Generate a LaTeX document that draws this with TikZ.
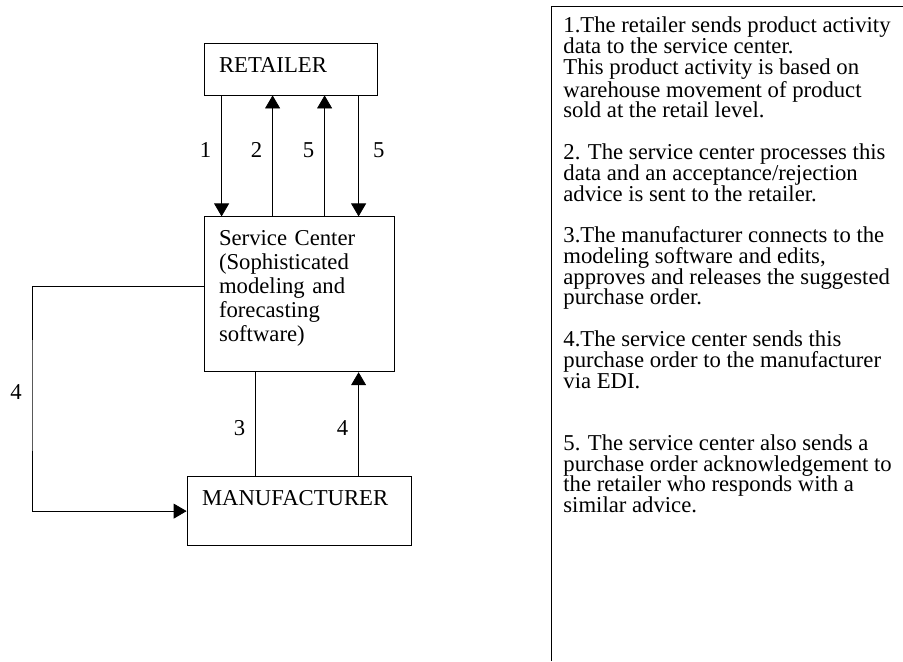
\documentclass[tikz,border=0pt]{standalone}
\usepackage{fontspec}
\setmainfont{Liberation Serif}
\usetikzlibrary{arrows.meta,positioning}
\tikzset{
	-{Triangle[length=6.5pt,width=7.5pt]},semithick,
	box/.style ={rectangle, draw, align=left, inner xsep=7.5pt, inner ysep=0pt},
	num/.style = {inner sep=5pt},
	notes/.style = {anchor=north west, inner sep=0pt, align=left, font=\fontsize{11.35}{10.39}\selectfont}
}

\begin{document}
\begin{tikzpicture}[x=0.5pt,y=-0.5pt,font=\fontsize{11.35}{12}\selectfont]

    \useasboundingbox (0,0) rectangle (903,661);

    \node[box, text width=71.5pt, minimum height=26pt, text depth=3.8pt] (retailer) at (290.5,69) {RETAILER};
    \node[box, text width=80pt, minimum height=77.5pt, text depth=56pt, below=60.5pt of retailer, xshift=4.25pt] (service)
        {Service Center\\(Sophisticated\\modeling and\\forecasting\\software)};
    \node[box, text width=97pt, minimum height=34.5pt, text depth=13pt, below=52pt of service] (manuf) {MANUFACTURER};

    % retailer <-> service center
    \draw ([xshift=9pt]retailer.south west) -- ([xshift=9pt]retailer.south west |- service.north) node[num,left,pos=0.45] {1};
    \draw ([xshift=34.5pt]retailer.south west |- service.north) -- ([xshift=34.5pt]retailer.south west) node[num,left,pos=0.55] {2};
    \draw ([xshift=60.5pt]retailer.south west |- service.north) -- ([xshift=60.5pt]retailer.south west) node[num,left,pos=0.55] {5};
    \draw ([xshift=77.5pt]retailer.south west) -- ([xshift=77.5pt]retailer.south west |- service.north) node[num,right,pos=0.45,xshift=2pt] {5};

    % service center <-> manufacturer
    \draw[-] ([xshift=26pt]service.south west) -- ([xshift=26pt]service.south west |- manuf.north) node[num,left,pos=0.54] {3};
    \draw ([xshift=77.5pt]service.south west |- manuf.north) -- ([xshift=77.5pt]service.south west) node[num,left,pos=0.46] {4};

    \coordinate (bend) at (32,392);
    \draw ([yshift=3.75pt]service.west) -| (bend) node[num,left] {4} |- (manuf.west);

    % explanation panel
    \draw[-] (551,661) |- (903,6);
    \node[notes] (steps) at (563,16.5) {1.The retailer sends product activity\\
        data to the service center.\\
        This product activity is based on\\
        warehouse movement of product\\
        sold at the retail level.\\[10.39pt]
        2. The service center processes this\\
        data and an acceptance/rejection\\
        advice is sent to the retailer.\\[10.39pt]
        3.The manufacturer connects to the\\
        modeling software and edits,\\
        approves and releases the suggested\\
        purchase order.\\[10.39pt]
        4.The service center sends this\\
        purchase order to the manufacturer\\
        via EDI.\\[20.78pt]
        5. The service center also sends a\\
        purchase order acknowledgement to\\
        the retailer who responds with a\\
        similar advice.};

\end{tikzpicture}
\end{document}
